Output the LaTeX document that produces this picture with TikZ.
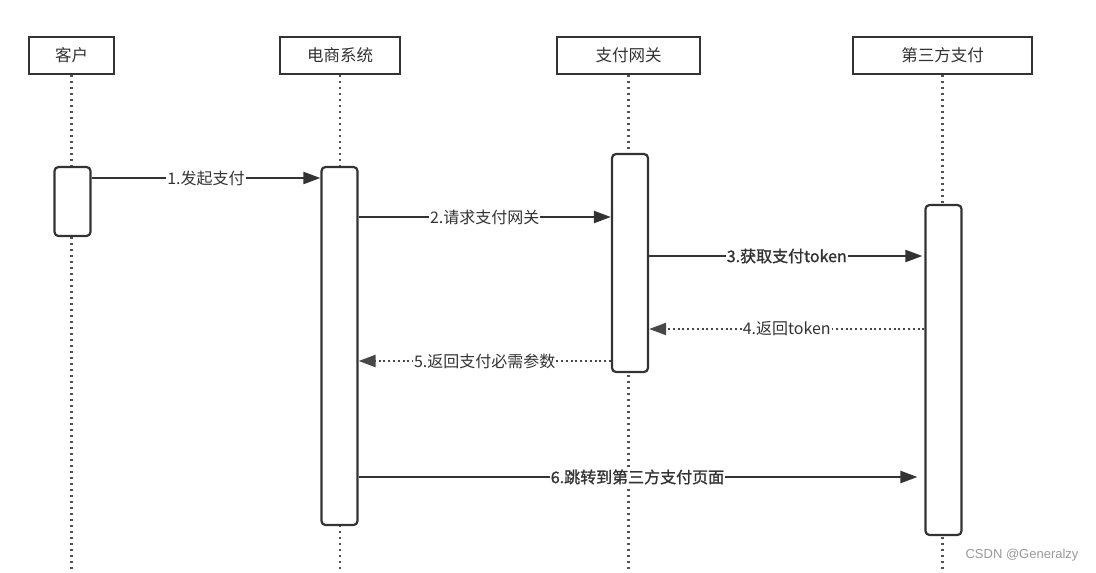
\documentclass[tikz,border=0pt]{standalone}
\usepackage{fontspec}
\setmainfont{Liberation Sans}
\newfontfamily\cjk{Noto Sans CJK SC}
\newfontfamily\cjkb[FakeBold=1.2]{Noto Sans CJK SC}
\usetikzlibrary{arrows.meta}
\definecolor{ink}{HTML}{333333}
\definecolor{wm}{HTML}{999999}
\begin{document}
\begin{tikzpicture}[x=1pt,y=1pt,
  head/.style={draw=ink, line width=2.3pt, minimum height=37pt, inner sep=0pt, fill=white,
    text=ink, font=\cjk\fontsize{16.5}{19}\selectfont},
  act/.style={draw=ink, line width=2.2pt, rounded corners=4pt, fill=white, minimum width=36pt, inner sep=0pt},
  life/.style={draw=ink!85, line width=2.2pt, dash pattern=on 2pt off 4pt},
  msg/.style={draw=ink, line width=2.2pt, -{Triangle[length=17pt,width=12pt]}},
  ret/.style={draw=ink!90, line width=2.2pt, dash pattern=on 2pt off 2.8pt, -{Triangle[length=17pt,width=12pt]}},
  lbl/.style={fill=white, inner sep=1pt, text=ink, font=\cjk\fontsize{16}{19}\selectfont},
  lblb/.style={fill=white, inner sep=1pt, text=ink, font=\cjkb\fontsize{16}{19}\selectfont},
]
\useasboundingbox[fill=white] (0,0) rectangle (1096,-573);

% headers
\node[head, minimum width=85pt] (hA) at (71.5,-55.5) {客户};
\node[head, minimum width=120pt] (hB) at (340,-55.5) {电商系统};
\node[head, minimum width=143pt] (hC) at (628.5,-55.5) {支付网关};
\node[head, minimum width=179pt] (hD) at (942.5,-55.5) {第三方支付};

% lifeline ends
\coordinate (bot) at (0,-573);
\draw[life] (hA.south) -- (hA.south |- bot);
\draw[life] (hB.south) -- (hB.south |- bot);
\draw[life] (hC.south) -- (hC.south |- bot);
\draw[life] (hD.south) -- (hD.south |- bot);

% activations
\node[act, minimum height=69pt] (aA) at (72.5,-201.5) {};
\node[act, minimum height=358pt] (aB) at (339.5,-346) {};
\node[act, minimum height=218pt] (aC) at (630,-263) {};
\node[act, minimum height=330pt] (aD) at (943.5,-370) {};

% message rows
\coordinate (m1) at (0,-178);
\coordinate (m2) at (0,-217);
\coordinate (m3) at (0,-256);
\coordinate (m4) at (0,-329);
\coordinate (m5) at (0,-361);
\coordinate (m6) at (0,-477);

\draw[msg] (aA.east |- m1) -- node[lbl] {1.发起支付} (aB.west |- m1);
\draw[msg] (aB.east |- m2) -- node[lbl] {2.请求支付网关} (aC.west |- m2);
\draw[msg, shorten >=2pt] (aC.east |- m3) -- node[lblb] {3.获取支付token} (aD.west |- m3);
\draw[ret] (aD.west |- m4) -- node[lbl] {4.返回token} (aC.east |- m4);
\draw[ret] (aC.west |- m5) -- node[lbl] {5.返回支付必需参数} (aB.east |- m5);
\draw[msg, shorten >=7pt] (aB.east |- m6) -- node[lblb, xshift=-4pt] {6.跳转到第三方支付页面} (aD.west |- m6);

% watermark
\node[text=wm, font=\fontsize{13}{15}\selectfont, anchor=east] (wmk) at (1082,-555) {CSDN @Generalzy};
\end{tikzpicture}
\end{document}
